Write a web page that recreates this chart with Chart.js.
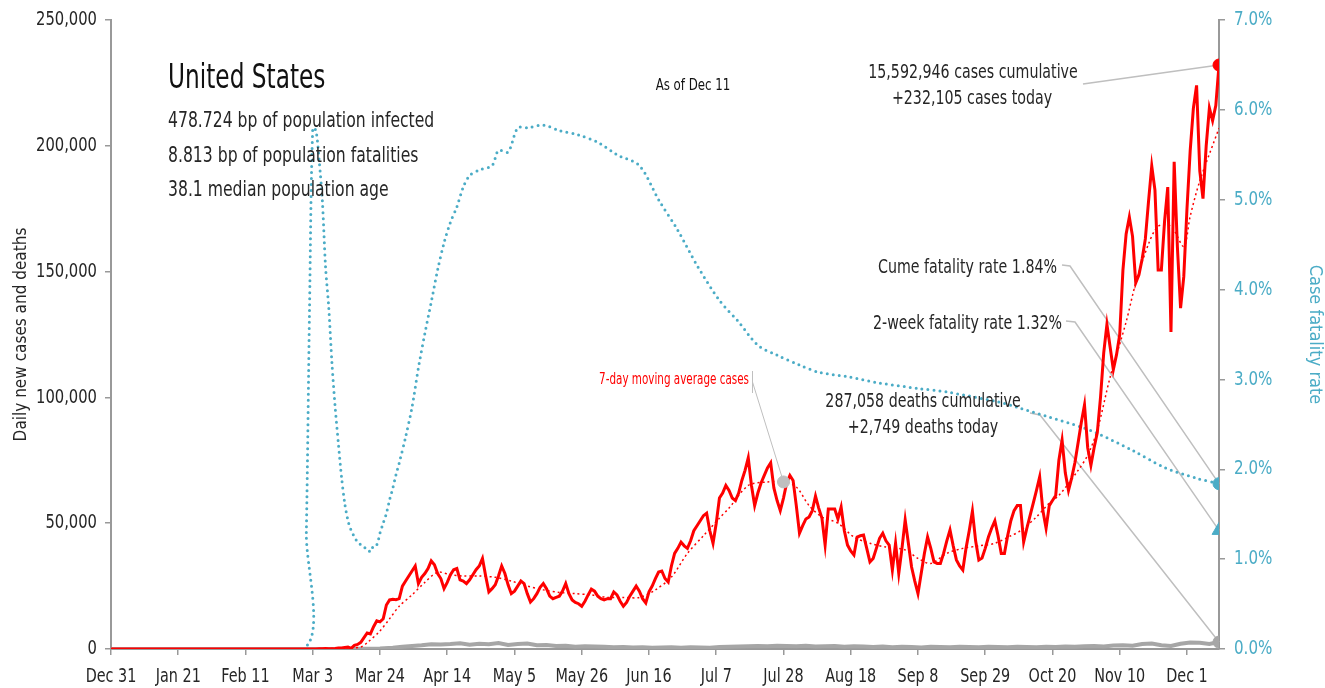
<!DOCTYPE html>
<html>
<head>
<meta charset="utf-8">
<script src="https://cdn.jsdelivr.net/npm/chart.js@4.4.0/dist/chart.umd.min.js"></script>
<style>
  html, body { margin: 0; padding: 0; background: #fff; }
  #wrap { width: 1325px; height: 688px; }
</style>
</head>
<body>
<div id="wrap"><canvas id="covidChart" width="1325" height="688"></canvas></div>
<script>
// x axis: day number counted from Dec 31 (day 0) to Dec 11 (day 346)
const tickDays = [0, 21, 42, 63, 84, 105, 126, 147, 168, 189, 210, 231, 252, 273, 294, 315, 336];
const tickLabels = ['Dec 31', 'Jan 21', 'Feb 11', 'Mar 3', 'Mar 24', 'Apr 14', 'May 5', 'May 26', 'Jun 16',
                    'Jul 7', 'Jul 28', 'Aug 18', 'Sep 8', 'Sep 29', 'Oct 20', 'Nov 10', 'Dec 1'];
const caseTicks = [0, 50000, 100000, 150000, 200000, 250000];
const rateTicks = [0, 1, 2, 3, 4, 5, 6, 7];

// daily new cases, one value per day starting Dec 31
const dailyCases = [
  0, 0, 0, 0, 0, 0, 0,
  0, 0, 0, 0, 0, 0, 0,
  0, 0, 0, 0, 0, 0, 0,
  1, 0, 0, 1, 0, 3, 0,
  0, 0, 0, 1, 1, 1, 3,
  0, 0, 0, 0, 0, 0, 0,
  1, 0, 1, 0, 0, 0, 0,
  0, 0, 0, 20, 0, 0, 18,
  0, 6, 1, 3, 8, 7, 23,
  19, 33, 77, 53, 166, 116, 75,
  187, 365, 439, 633, 759, 234, 1467,
  1833, 2657, 4494, 6367, 5995, 8873, 11238,
  10800, 12000, 17500, 19500, 19800, 19600, 20000,
  25000, 27000, 29000, 31000, 33000, 26000, 28500,
  30000, 32000, 35000, 33500, 30000, 28000, 24000,
  26500, 29500, 31500, 32000, 27500, 27000, 26000,
  27500, 29500, 31500, 33000, 36000, 29000, 22700,
  24000, 25500, 29000, 33000, 30000, 25500, 22000,
  23000, 25000, 27000, 26000, 22000, 18700, 20000,
  22000, 24500, 26000, 24000, 21000, 20000, 20500,
  21000, 23000, 26000, 22000, 19500, 18500, 18000,
  17000, 19000, 21500, 23800, 23000, 21000, 20000,
  19500, 20000, 20000, 22700, 21500, 19000, 17000,
  18500, 21000, 23000, 25000, 23000, 20000, 18300,
  22700, 25000, 28000, 30600, 31000, 28000, 26600,
  33000, 38000, 40000, 42500, 41000, 40000, 43000,
  47000, 49000, 51000, 53000, 54000, 47000, 42000,
  50000, 60000, 62000, 65000, 63000, 60000, 59000,
  62000, 67000, 71000, 76000, 65000, 57000, 62000,
  66000, 69000, 72000, 74000, 64000, 59000, 55000,
  60000, 66000, 69000, 67000, 57000, 46000, 49000,
  51700, 52500, 55000, 60800, 56000, 52000, 41300,
  55600, 55600, 55600, 51700, 56400, 47000, 41300,
  39000, 37400, 44500, 45000, 45300, 40000, 34600,
  36000, 40000, 44000, 46000, 43000, 41300, 31400,
  42000, 30000, 40000, 51300, 42000, 32600, 27000,
  22000, 30000, 38000, 44500, 40000, 34600, 34000,
  34000, 38000, 43000, 47300, 41000, 35400, 33000,
  31400, 40000, 47000, 54800, 43000, 35400, 36200,
  40000, 44500, 48000, 50900, 45000, 38000, 38000,
  45000, 51000, 55000, 57000, 57000, 42500, 48000,
  53000, 58000, 63000, 68400, 55000, 48000, 57000,
  59000, 61000, 75000, 83000, 70000, 63000, 68000,
  74000, 82000, 90000, 97000, 80000, 73000, 80000,
  86000, 100000, 117700, 129000, 120000, 111000, 117000,
  125000, 150600, 165000, 171700, 164000, 145500, 148700,
  155000, 163000, 178000, 192000, 182400, 150600, 150600,
  170000, 183600, 126000, 193600, 160000, 135500, 148000,
  175000, 198000, 215000, 224000, 190000, 179000, 200000,
  215000, 210000, 216000, 232105
];

// 7-day moving average of cases, read at sample days
const avgDays = [0, 60, 70, 75, 78, 80, 84, 87, 90, 94, 98, 102, 106, 110, 115, 120, 125, 130, 135, 140,
                 145, 150, 155, 160, 165, 170, 175, 180, 185, 190, 193, 199, 205, 210, 214, 218, 222, 227,
                 232, 237, 242, 248, 252, 256, 261, 266, 271, 276, 281, 284, 289, 293, 296, 302, 305, 308,
                 312, 317, 320, 324, 327, 331, 335, 337, 340, 346];
const avgCases = [0, 5, 200, 450, 800, 2500, 7200, 12000, 17000, 21500, 26500, 30500, 29500, 29000, 29000,
                  28500, 27000, 25000, 23500, 22500, 22000, 21500, 20500, 20500, 20500, 23500, 28600, 38000,
                  45000, 52000, 56000, 65000, 66400, 66400, 64400, 57000, 52500, 50000, 44500, 42000, 40500,
                  39400, 36000, 34000, 38000, 40000, 41000, 42000, 45000, 47000, 52500, 58000, 61000, 71000,
                  77000, 87000, 108000, 130000, 145500, 161000, 168000, 168000, 160000, 172000, 186000, 207000];

// daily new deaths
const deathDays = [0, 60, 70, 78, 84, 88, 91, 94, 97, 100, 103, 106, 109, 112, 115, 118, 121, 124, 127, 130,
                   133, 136, 139, 142, 145, 148, 151, 154, 157, 160, 163, 166, 169, 172, 175, 178, 181, 184,
                   187, 190, 193, 196, 199, 202, 205, 208, 211, 214, 217, 220, 223, 226, 229, 232, 235, 238,
                   241, 244, 247, 250, 253, 256, 259, 262, 265, 268, 271, 274, 277, 280, 283, 286, 289, 292,
                   295, 298, 301, 304, 307, 310, 313, 316, 319, 322, 325, 328, 331, 334, 337, 340, 343, 346];
const dailyDeaths = [0, 1, 5, 50, 200, 500, 900, 1200, 1500, 1900, 1800, 2000, 2300, 1700, 2100, 1900, 2400,
                     1600, 2000, 2200, 1500, 1600, 1200, 1300, 900, 1100, 1000, 900, 700, 800, 600, 700, 500,
                     600, 700, 500, 700, 600, 500, 800, 900, 1000, 1100, 1200, 1100, 1300, 1200, 1100, 1300,
                     1000, 1100, 1200, 900, 1100, 1000, 800, 1000, 700, 900, 800, 600, 900, 800, 700, 900,
                     800, 700, 900, 800, 700, 900, 800, 700, 900, 800, 1000, 900, 1100, 1200, 1000, 1400,
                     1500, 1300, 2000, 2200, 1500, 1200, 2100, 2600, 2500, 2000, 2749];

// cumulative case fatality rate (%)
const cfrDays = [0, 60, 61, 62, 63, 64, 65, 66, 67, 68, 69, 70, 71, 72, 73, 74, 75, 76, 77, 78, 79, 80, 81,
                 82, 83, 84, 85, 86, 87, 88, 89, 90, 92, 94, 96, 98, 100, 102, 104, 106, 108, 110, 112, 115,
                 119, 121, 124, 127, 130, 135, 140, 146, 152, 158, 165, 171, 177, 183, 190, 196, 202, 208,
                 215, 221, 230, 240, 252, 261, 277, 283, 293, 303, 308, 319, 329, 339, 346];
const cfrValues = [0, 0, 1.3, 3.8, 5.8, 5.77, 5.44, 4.99, 4.25, 3.8, 3.18, 2.69, 2.29, 1.91, 1.62, 1.43, 1.32,
                   1.25, 1.19, 1.16, 1.13, 1.12, 1.08, 1.15, 1.16, 1.29, 1.4, 1.51, 1.66, 1.79, 1.94, 2.07,
                   2.36, 2.69, 3.13, 3.51, 3.86, 4.22, 4.52, 4.75, 4.92, 5.14, 5.27, 5.33, 5.38, 5.55, 5.53,
                   5.8, 5.8, 5.83, 5.77, 5.72, 5.64, 5.5, 5.38, 5.0, 4.66, 4.27, 3.88, 3.64, 3.38, 3.27, 3.16,
                   3.08, 3.03, 2.96, 2.9, 2.86, 2.75, 2.69, 2.58, 2.47, 2.4, 2.21, 2.02, 1.9, 1.84];

const lastDay = 346;
const casesToday = 232105;
const deathsToday = 2749;
const cumeRate = 1.84;
const twoWeekRate = 1.32;
const avgMarkerDay = 210;
const avgMarkerValue = 66400;

const FONT = '"Liberation Sans Narrow", "DejaVu Sans Condensed", "DejaVu Sans", sans-serif';
const RED = '#FF0000';
const BLUE = '#4BACC6';
const GREY = '#A6A6A6';
const LEADER = '#BFBFBF';
const INK = '#262626';
const SQUEEZE = 0.79; // narrow the glyphs, the original uses a condensed face

Chart.defaults.font.family = FONT;

const pairs = (xs, ys) => xs.map((d, i) => ({ x: d, y: ys[i] }));

function narrowText(ctx, s, px, py, size, align, color, squeeze) {
    ctx.save();
    ctx.font = size + 'px ' + FONT;
    ctx.fillStyle = color || INK;
    ctx.textAlign = align || 'left';
    ctx.textBaseline = 'middle';
    ctx.translate(px, py);
    ctx.scale(squeeze || SQUEEZE, 1);
    ctx.fillText(s, 0, 0);
    ctx.restore();
}

// tick labels, placed with the chart's own scales
const tickText = {
    id: 'tickText',
    afterDraw(chart) {
        const { ctx, scales: { x, y, y2 } } = chart;
        tickDays.forEach((d, i) => narrowText(ctx, tickLabels[i], x.getPixelForValue(d), 677, 20, 'center', INK, 0.8));
        caseTicks.forEach(v => narrowText(ctx, v.toLocaleString('en-US'), 97, y.getPixelForValue(v), 20, 'right', INK, 0.82));
        rateTicks.forEach(v => narrowText(ctx, v.toFixed(1) + '%', 1234, y2.getPixelForValue(v), 20, 'left', BLUE, 0.84));
    }
};

// text labels and leader lines
const notes = {
    id: 'notes',
    beforeDatasetsDraw(chart) {
        const { ctx, scales: { x, y, y2 } } = chart;
        const px = x.getPixelForValue(lastDay);
        ctx.save();
        ctx.strokeStyle = LEADER;
        ctx.lineWidth = 1.5;
        const leader = (pts) => {
            ctx.beginPath();
            ctx.moveTo(pts[0][0], pts[0][1]);
            pts.slice(1).forEach(p => ctx.lineTo(p[0], p[1]));
            ctx.stroke();
        };
        leader([[1083, 84], [px, y.getPixelForValue(casesToday)]]);
        leader([[1062, 265], [1070, 266], [px, y2.getPixelForValue(cumeRate)]]);
        leader([[1066, 321], [1075, 322], [px, y2.getPixelForValue(twoWeekRate)]]);
        leader([[1030, 413], [1040, 415], [px, y.getPixelForValue(deathsToday)]]);
        ctx.lineWidth = 1;
        leader([[752.5, 371], [752.5, 393]]);
        leader([[752.5, 382], [x.getPixelForValue(avgMarkerDay), y.getPixelForValue(avgMarkerValue)]]);
        ctx.restore();
    },
    afterDraw(chart) {
        const { ctx } = chart;
        narrowText(ctx, 'United States', 168, 79, 34, 'left', '#111', 0.76);
        narrowText(ctx, '478.724 bp of population infected', 168, 121, 22, 'left', INK, 0.79);
        narrowText(ctx, '8.813 bp of population fatalities', 168, 156, 22, 'left', INK, 0.79);
        narrowText(ctx, '38.1 median population age', 168, 190, 22, 'left', INK, 0.79);
        narrowText(ctx, 'As of Dec 11', 693, 86, 16, 'center', '#111', 0.82);
        narrowText(ctx, '15,592,946 cases cumulative', 973, 73, 20, 'center');
        narrowText(ctx, '+232,105 cases today', 972, 99, 20, 'center');
        narrowText(ctx, 'Cume fatality rate 1.84%', 1057, 268, 20, 'right');
        narrowText(ctx, '2-week fatality rate 1.32%', 1062, 324, 20, 'right');
        narrowText(ctx, '287,058 deaths cumulative', 923, 402, 20, 'center');
        narrowText(ctx, '+2,749 deaths today', 923, 428, 20, 'center');
        narrowText(ctx, '7-day moving average cases', 749, 380, 15, 'right', RED, 0.77);
    }
};

const gridStyle = { drawOnChartArea: false, drawTicks: true, tickLength: 6, color: '#999', lineWidth: 1.5 };
const borderStyle = { display: true, color: '#999', width: 2 };

const ctx = document.getElementById('covidChart').getContext('2d');
const covidChart = new Chart(ctx, {
    type: 'line',
    data: {
        datasets: [
            {
                label: 'Cases today',
                data: [{ x: lastDay, y: casesToday }],
                yAxisID: 'y',
                showLine: false,
                pointRadius: 6,
                pointBackgroundColor: RED,
                pointBorderColor: RED
            },
            {
                label: 'Cume fatality rate',
                data: [{ x: lastDay, y: cumeRate }],
                yAxisID: 'y2',
                showLine: false,
                pointRadius: 6,
                pointBackgroundColor: BLUE,
                pointBorderColor: BLUE
            },
            {
                label: '2-week fatality rate',
                data: [{ x: lastDay, y: twoWeekRate }],
                yAxisID: 'y2',
                showLine: false,
                pointStyle: 'triangle',
                pointRadius: 8,
                pointBackgroundColor: BLUE,
                pointBorderColor: BLUE
            },
            {
                label: 'Deaths today',
                data: [{ x: lastDay, y: deathsToday }],
                yAxisID: 'y',
                showLine: false,
                pointRadius: 6,
                pointBackgroundColor: GREY,
                pointBorderColor: GREY
            },
            {
                label: 'Moving average marker',
                data: [{ x: avgMarkerDay, y: avgMarkerValue }],
                yAxisID: 'y',
                showLine: false,
                pointRadius: 6,
                pointBackgroundColor: '#BFBFBF',
                pointBorderColor: '#BFBFBF'
            },
            {
                label: 'Daily new cases',
                data: dailyCases.map((v, i) => ({ x: i, y: v })),
                yAxisID: 'y',
                borderColor: RED,
                borderWidth: 3,
                pointRadius: 0,
                tension: 0
            },
            {
                label: '7-day moving average cases',
                data: pairs(avgDays, avgCases),
                yAxisID: 'y',
                borderColor: RED,
                borderWidth: 1.5,
                borderDash: [2, 3],
                pointRadius: 0,
                tension: 0.3
            },
            {
                label: 'Daily new deaths',
                data: pairs(deathDays, dailyDeaths),
                yAxisID: 'y',
                borderColor: GREY,
                borderWidth: 4,
                pointRadius: 0,
                tension: 0
            },
            {
                label: 'Case fatality rate',
                data: pairs(cfrDays, cfrValues),
                yAxisID: 'y2',
                borderColor: BLUE,
                borderWidth: 3,
                borderDash: [0, 6],
                borderCapStyle: 'round',
                pointRadius: 0,
                tension: 0.3
            }
        ]
    },
    options: {
        responsive: false,
        animation: false,
        layout: { padding: { top: 20, right: 0, left: 0, bottom: 0 } },
        plugins: {
            legend: { display: false },
            tooltip: { enabled: false }
        },
        scales: {
            x: {
                type: 'linear',
                min: 0,
                max: lastDay,
                afterBuildTicks: (scale) => { scale.ticks = tickDays.map(v => ({ value: v })); },
                afterFit: (scale) => { scale.height = 39; },
                grid: gridStyle,
                border: borderStyle,
                ticks: { display: false }
            },
            y: {
                position: 'left',
                min: 0,
                max: 250000,
                afterBuildTicks: (scale) => { scale.ticks = caseTicks.map(v => ({ value: v })); },
                afterFit: (scale) => { scale.width = 111; },
                grid: gridStyle,
                border: borderStyle,
                ticks: { display: false },
                title: {
                    display: true,
                    text: 'Daily new cases and deaths',
                    color: INK,
                    font: { size: 17 },
                    padding: { top: 11, bottom: 0 }
                }
            },
            y2: {
                position: 'right',
                min: 0,
                max: 7,
                afterBuildTicks: (scale) => { scale.ticks = rateTicks.map(v => ({ value: v })); },
                afterFit: (scale) => { scale.width = 106; },
                grid: gridStyle,
                border: borderStyle,
                ticks: { display: false },
                title: {
                    display: true,
                    text: 'Case fatality rate',
                    color: BLUE,
                    font: { size: 18 },
                    padding: { top: 0, bottom: 13 }
                }
            }
        }
    },
    plugins: [notes, tickText]
});
</script>
</body>
</html>
